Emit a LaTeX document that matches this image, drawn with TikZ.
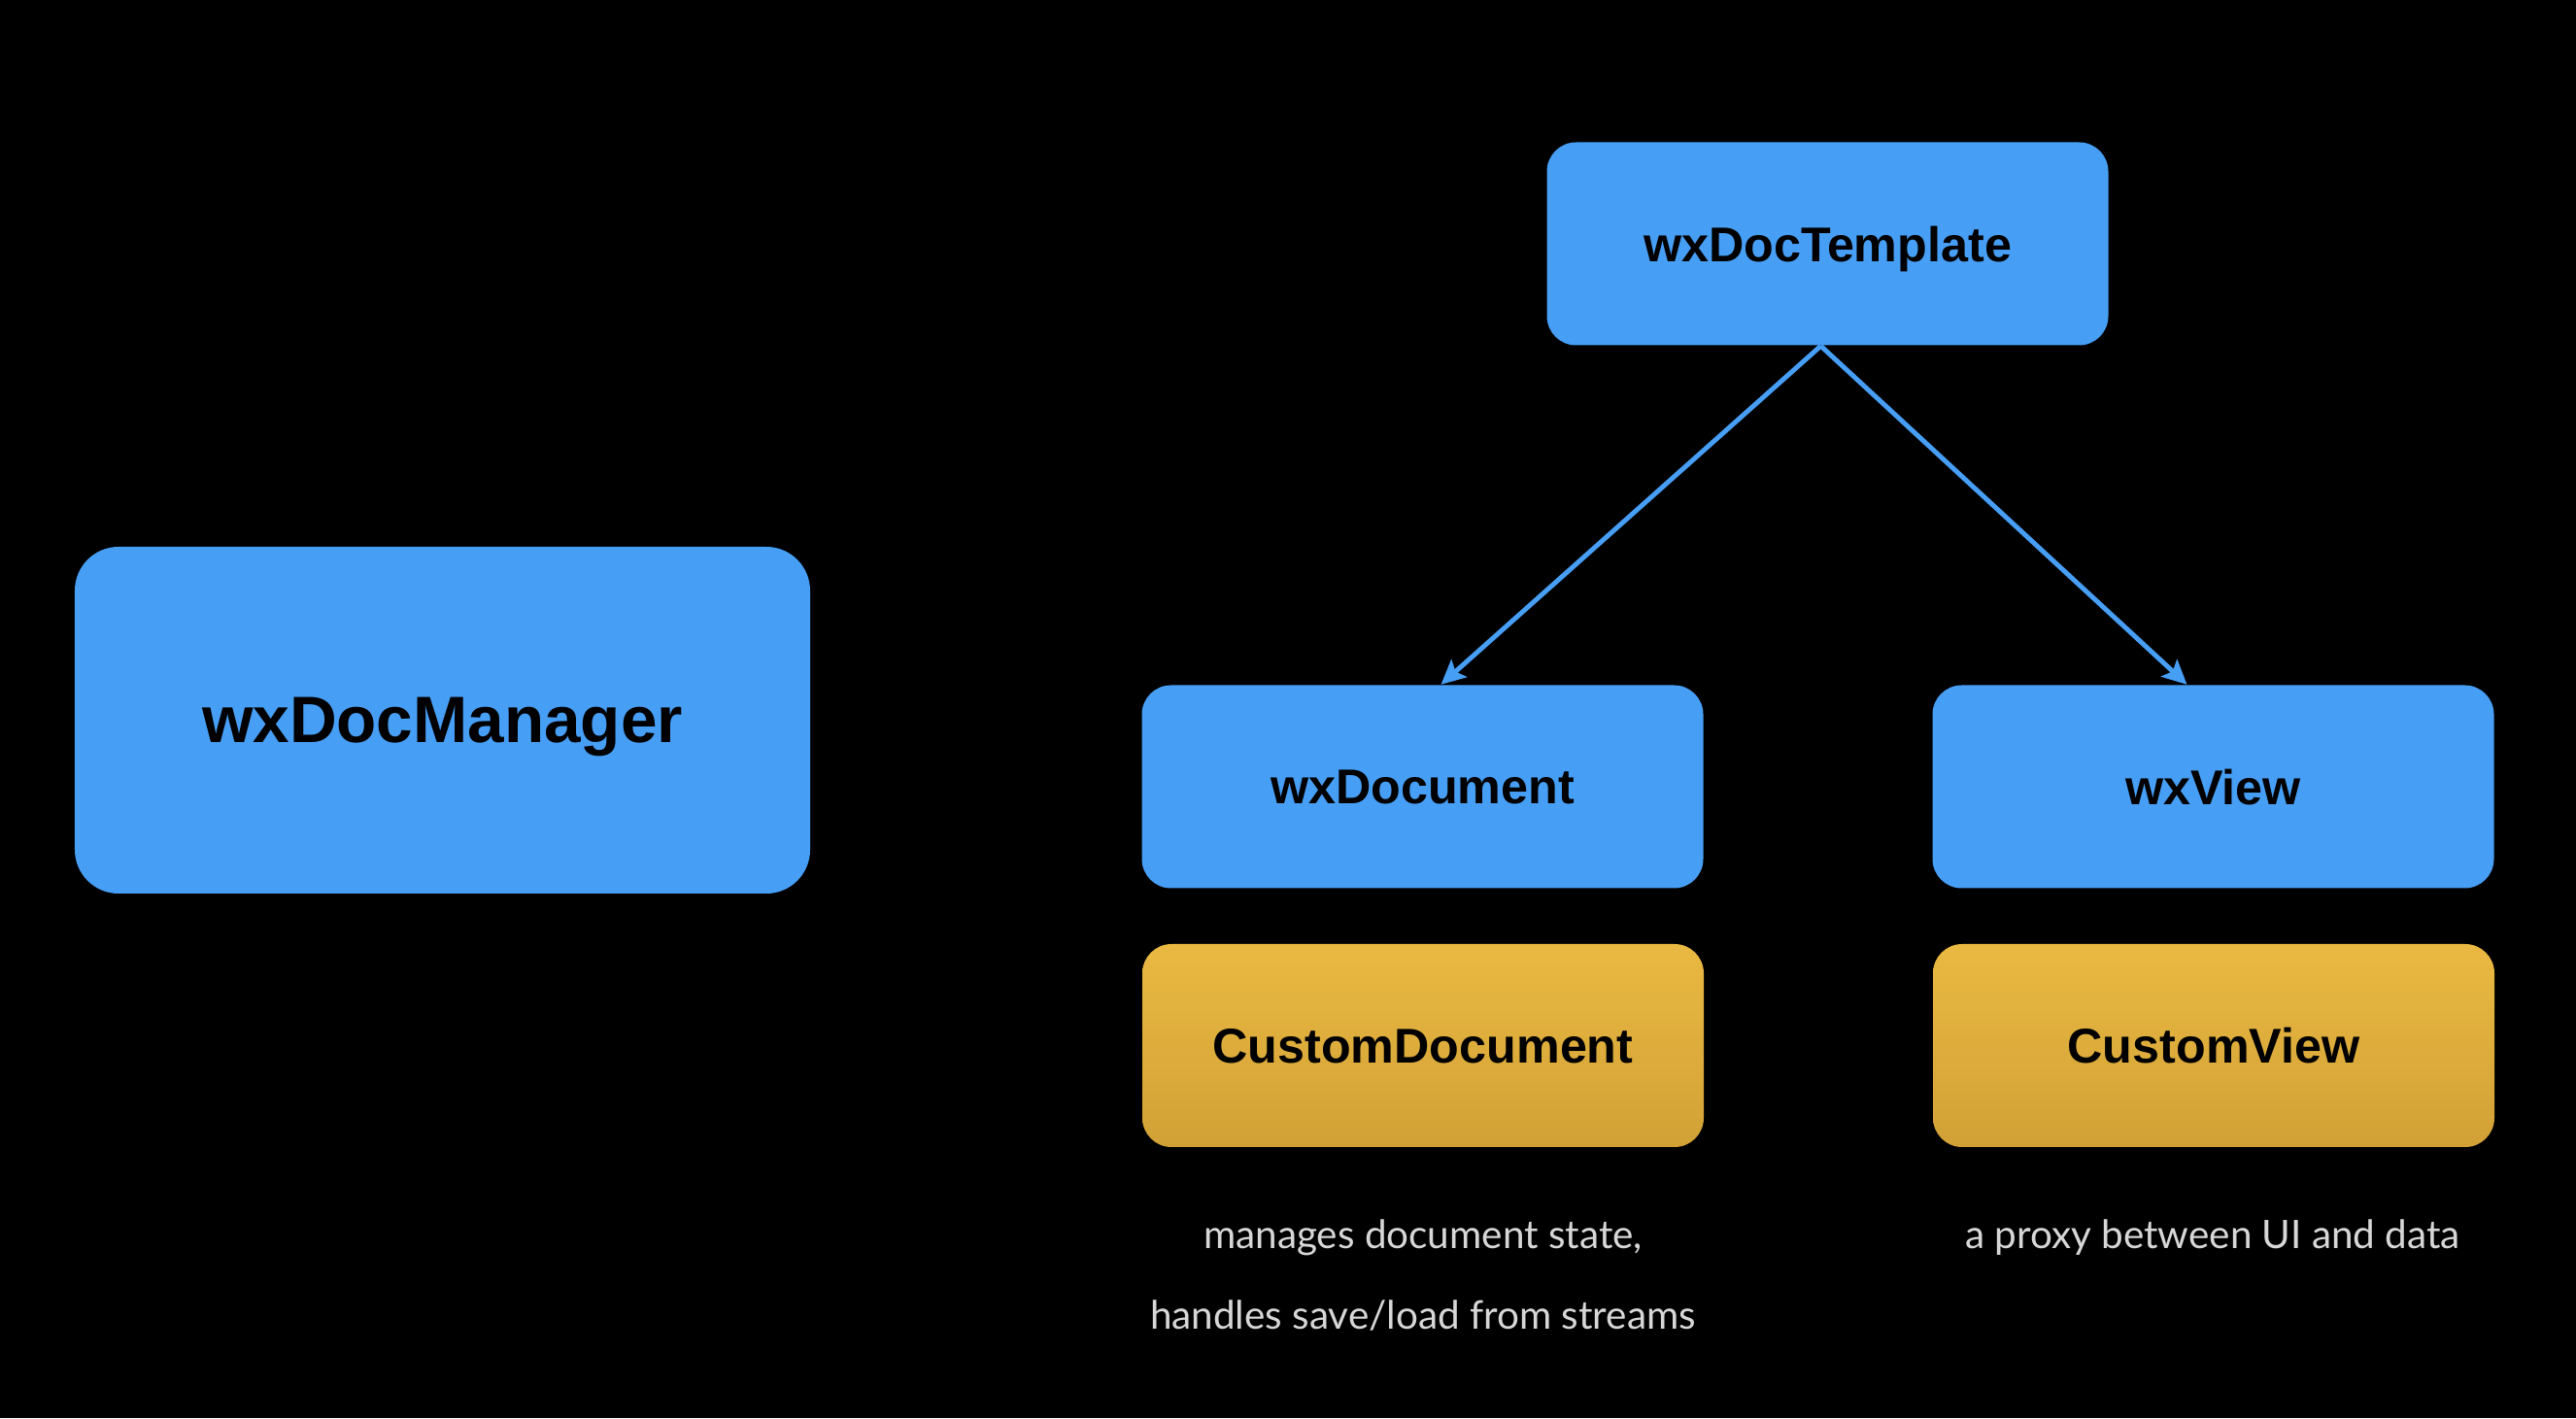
\documentclass[tikz,border=0pt]{standalone}
\usepackage{xcolor}
\usepackage{fontspec}
\setmainfont{Liberation Sans}
\newfontfamily\notefont{Lato}
\usepackage{tikz}
\usetikzlibrary{positioning, arrows.meta}

\begin{document}
\begin{tikzpicture}[
    classbox/.style={rounded corners=0.3cm, fill=boxblue, inner sep=0pt, text depth=0pt,
        minimum width=5.78cm, minimum height=2.09cm, font=\fontsize{14.3}{17}\selectfont\bfseries},
    custombox/.style={classbox, fill=none, top color=goldtop, bottom color=goldbottom},
    note/.style={font=\notefont\fontsize{11.5}{14}\selectfont, text=notegray},
    link/.style={-{Stealth[length=0.25cm, width=0.24cm, inset=0.05cm]}, line width=1.4pt, draw=boxblue}
]
    % Define colors
    \definecolor{boxblue}{RGB}{71, 158, 245}
    \definecolor{goldtop}{RGB}{233, 185, 66}
    \definecolor{goldbottom}{RGB}{210, 161, 54}
    \definecolor{notegray}{RGB}{215, 215, 215}

    % Background
    \fill[black] (0, 0) rectangle (26.52, 14.60);
    \useasboundingbox (0, 0) rectangle (26.52, 14.60);

    % Manager
    \node[classbox, rounded corners=0.45cm, minimum width=7.57cm, minimum height=3.57cm,
        font=\fontsize{19.2}{23}\selectfont\bfseries] (manager) at (4.555, 7.185) {wxDocManager};

    % Template and its classes
    \node[classbox] (template) at (18.815, 12.09) {wxDocTemplate};
    \node[classbox] (document) at (14.645, 6.50) {wxDocument};
    \node[classbox] (view) at (22.785, 6.50) {wxView};

    % Custom classes
    \node[custombox] (customdoc) at (14.65, 3.835) {CustomDocument};
    \node[custombox] (customview) at (22.79, 3.835) {CustomView};

    % Notes
    \node[note] (docnote1) at (14.65, 1.86) {manages document state,};
    \node[note] (docnote2) at (14.65, 1.05) {handles save/load from streams};
    \node[note] (viewnote) at (22.78, 1.86) {a proxy between UI and data};

    % Arrows
    \draw[link] ([xshift=-0.07cm]template.south) -- ([xshift=0.19cm]document.north);
    \draw[link] ([xshift=-0.07cm]template.south) -- ([xshift=-0.27cm]view.north);

\end{tikzpicture}
\end{document}
